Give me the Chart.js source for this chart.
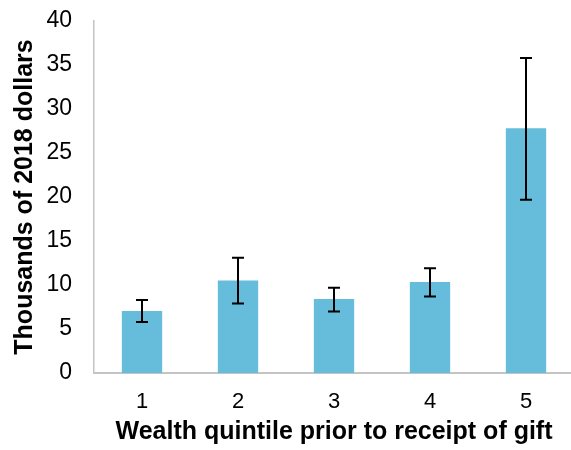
<!DOCTYPE html>
<html>
<head>
<meta charset="utf-8">
<script src="https://cdn.jsdelivr.net/npm/chart.js@4"></script>
<style>
  html, body { margin: 0; padding: 0; background: #fff; overflow: hidden; }
  #wrap { width: 576px; height: 450px; }
</style>
</head>
<body>
<div id="wrap"><canvas id="barChart"></canvas></div>
<script>
var quintiles = ['1', '2', '3', '4', '5'];
var giftValues = [7.05, 10.5, 8.4, 10.35, 27.8];
var errLow = [5.8, 7.9, 7.0, 8.7, 19.7];
var errHigh = [8.3, 13.1, 9.7, 11.9, 35.8];
var yTicks = [0, 5, 10, 15, 20, 25, 30, 35, 40];

// draws the whiskers on top of the bars
var errorBars = {
    id: 'errorBars',
    afterDatasetsDraw: function(chart) {
        var ctx = chart.ctx;
        var y = chart.scales.y;
        var meta = chart.getDatasetMeta(0);
        ctx.save();
        ctx.strokeStyle = '#000';
        ctx.lineWidth = 2;
        meta.data.forEach(function(bar, i) {
            var x = Math.round(bar.x);
            var top = y.getPixelForValue(errHigh[i]);
            var bot = y.getPixelForValue(errLow[i]);
            ctx.beginPath();
            ctx.moveTo(x, top); ctx.lineTo(x, bot);
            ctx.moveTo(x - 6, top); ctx.lineTo(x + 6, top);
            ctx.moveTo(x - 6, bot); ctx.lineTo(x + 6, bot);
            ctx.stroke();
        });
        ctx.restore();
    }
};

var ctx = document.getElementById('barChart').getContext('2d');
var myChart = new Chart(ctx, {
    type: 'bar',
    data: {
        labels: quintiles,
        datasets: [{
            data: giftValues,
            backgroundColor: 'rgb(101, 188, 219)',
            borderWidth: 0,
            barPercentage: 0.42,
            categoryPercentage: 1
        }]
    },
    options: {
        responsive: true,
        maintainAspectRatio: false,
        animation: false,
        layout: { padding: { top: 21, right: 2, left: 0, bottom: 0 } },
        plugins: {
            legend: { display: false },
            tooltip: { enabled: false }
        },
        scales: {
            x: {
                grid: { display: false, drawTicks: false },
                border: { color: '#c4c4c4', width: 2 },
                ticks: { color: '#000', font: { family: 'Arial', size: 22 }, padding: 16 },
                title: {
                    display: true,
                    text: 'Wealth quintile prior to receipt of gift',
                    color: '#000',
                    font: { family: 'Arial', size: 25, weight: 'bold' },
                    padding: { top: 0, bottom: 3 }
                },
                afterFit: function(s) { s.height = 77; }
            },
            y: {
                min: 0,
                max: 40,
                afterBuildTicks: function(s) {
                    s.ticks = yTicks.map(function(v) { return { value: v }; });
                },
                grid: { display: false, drawTicks: true, tickLength: 7, tickColor: '#c4c4c4', tickWidth: 1.5 },
                border: { color: '#c4c4c4', width: 1.5 },
                ticks: { color: '#000', font: { family: 'Arial', size: 23 }, padding: 15 },
                title: {
                    display: true,
                    text: 'Thousands of 2018 dollars',
                    color: '#000',
                    font: { family: 'Arial', size: 25, weight: 'bold' },
                    padding: { top: 10, bottom: 0 }
                },
                afterFit: function(s) {
                    s.width = 94;
                    s.paddingTop = 0;
                    s.paddingBottom = 0;
                }
            }
        }
    },
    plugins: [errorBars]
});
</script>
</body>
</html>
